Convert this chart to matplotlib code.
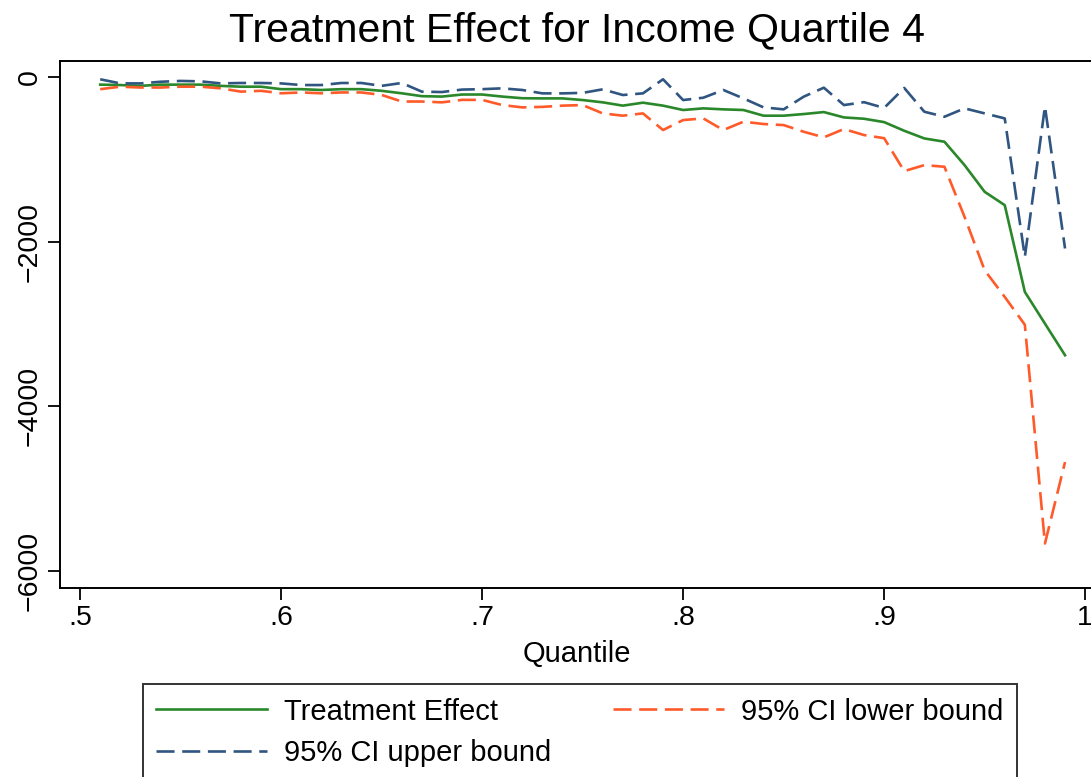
import matplotlib
matplotlib.use("Agg")
import matplotlib.pyplot as plt

plt.rcParams['font.family'] = ['Liberation Sans', 'DejaVu Sans']
plt.rcParams['lines.scale_dashes'] = False

# Quantiles .51 ... .99
quantile = [0.51, 0.52, 0.53, 0.54, 0.55, 0.56, 0.57, 0.58, 0.59, 0.60,
            0.61, 0.62, 0.63, 0.64, 0.65, 0.66, 0.67, 0.68, 0.69, 0.70,
            0.71, 0.72, 0.73, 0.74, 0.75, 0.76, 0.77, 0.78, 0.79, 0.80,
            0.81, 0.82, 0.83, 0.84, 0.85, 0.86, 0.87, 0.88, 0.89, 0.90,
            0.91, 0.92, 0.93, 0.94, 0.95, 0.96, 0.97, 0.98, 0.99]

treatment_effect = [-95, -100, -110, -95, -95, -95, -110, -120, -120, -150,
                    -150, -160, -150, -150, -170, -200, -235, -240, -215, -215,
                    -240, -260, -262, -262, -282, -310, -350, -314, -350, -403,
                    -383, -395, -403, -472, -472, -452, -428, -493, -509, -550,
                    -655, -748, -788, -1072, -1396, -1558, -2611, -2996, -3380]

ci_lower = [-150, -120, -130, -130, -120, -120, -140, -180, -170, -200,
            -190, -200, -190, -190, -220, -300, -300, -310, -280, -280,
            -343, -371, -365, -350, -343, -444, -472, -444, -646, -525,
            -505, -646, -545, -573, -586, -667, -735, -634, -707, -745,
            -1145, -1072, -1092, -1700, -2348, -2672, -3010, -5665, -4677]

ci_upper = [-30, -80, -80, -60, -50, -55, -80, -75, -75, -80,
            -100, -100, -75, -75, -110, -75, -180, -185, -155, -150,
            -140, -160, -201, -201, -195, -152, -221, -201, -30, -282,
            -254, -160, -262, -371, -395, -241, -132, -343, -308, -378,
            -135, -424, -485, -383, -444, -505, -2186, -360, -2084]

x_ticks = [0.5, 0.6, 0.7, 0.8, 0.9, 1.0]
x_tick_labels = ['.5', '.6', '.7', '.8', '.9', '1']
y_ticks = [0, -2000, -4000, -6000]
y_tick_labels = ['0', '\u22122000', '\u22124000', '\u22126000']

c_green = '#2a872a'
c_orange = '#ff5a2a'
c_navy = '#2f5580'

fig = plt.figure(figsize=(10.91, 7.77), dpi=100)
ax = fig.add_axes([0.055, 0.2433, 0.947, 0.6782])

ax.plot(quantile, treatment_effect, color=c_green, lw=1.9,
        label='Treatment Effect')
ax.plot(quantile, ci_lower, color=c_orange, lw=1.9, dashes=(13, 5.5),
        label='95% CI lower bound')
ax.plot(quantile, ci_upper, color=c_navy, lw=1.9, dashes=(13, 5.5),
        label='95% CI upper bound')

ax.set_xlim(0.490, 1.004)
ax.set_ylim(-6205, 192)

ax.set_xticks(x_ticks)
ax.set_xticklabels(x_tick_labels, fontsize=20.5)
ax.set_yticks(y_ticks)
ax.set_yticklabels(y_tick_labels, fontsize=20.5, rotation=90, va='center')
ax.tick_params(axis='both', direction='out', length=8.5, width=1.3,
               color='black', pad=4)

for sp in ax.spines.values():
    sp.set_linewidth(1.4)
    sp.set_color('black')

ax.set_xlabel('Quantile', fontsize=21, labelpad=6)
ax.set_title('Treatment Effect for Income Quartile 4', fontsize=29.5, pad=14)

handles, labels = ax.get_legend_handles_labels()
order = [0, 2, 1]
leg = fig.legend([handles[i] for i in order], [labels[i] for i in order],
                 loc='upper center', bbox_to_anchor=(0.5316, 0.1197),
                 ncol=2, fontsize=21, frameon=True, fancybox=False,
                 edgecolor='black', handlelength=3.8, handletextpad=0.58,
                 columnspacing=2.13, labelspacing=0.46, borderpad=0.47,
                 borderaxespad=0)
leg.get_frame().set_linewidth(1.4)

fig.savefig('out.png', dpi=100)
